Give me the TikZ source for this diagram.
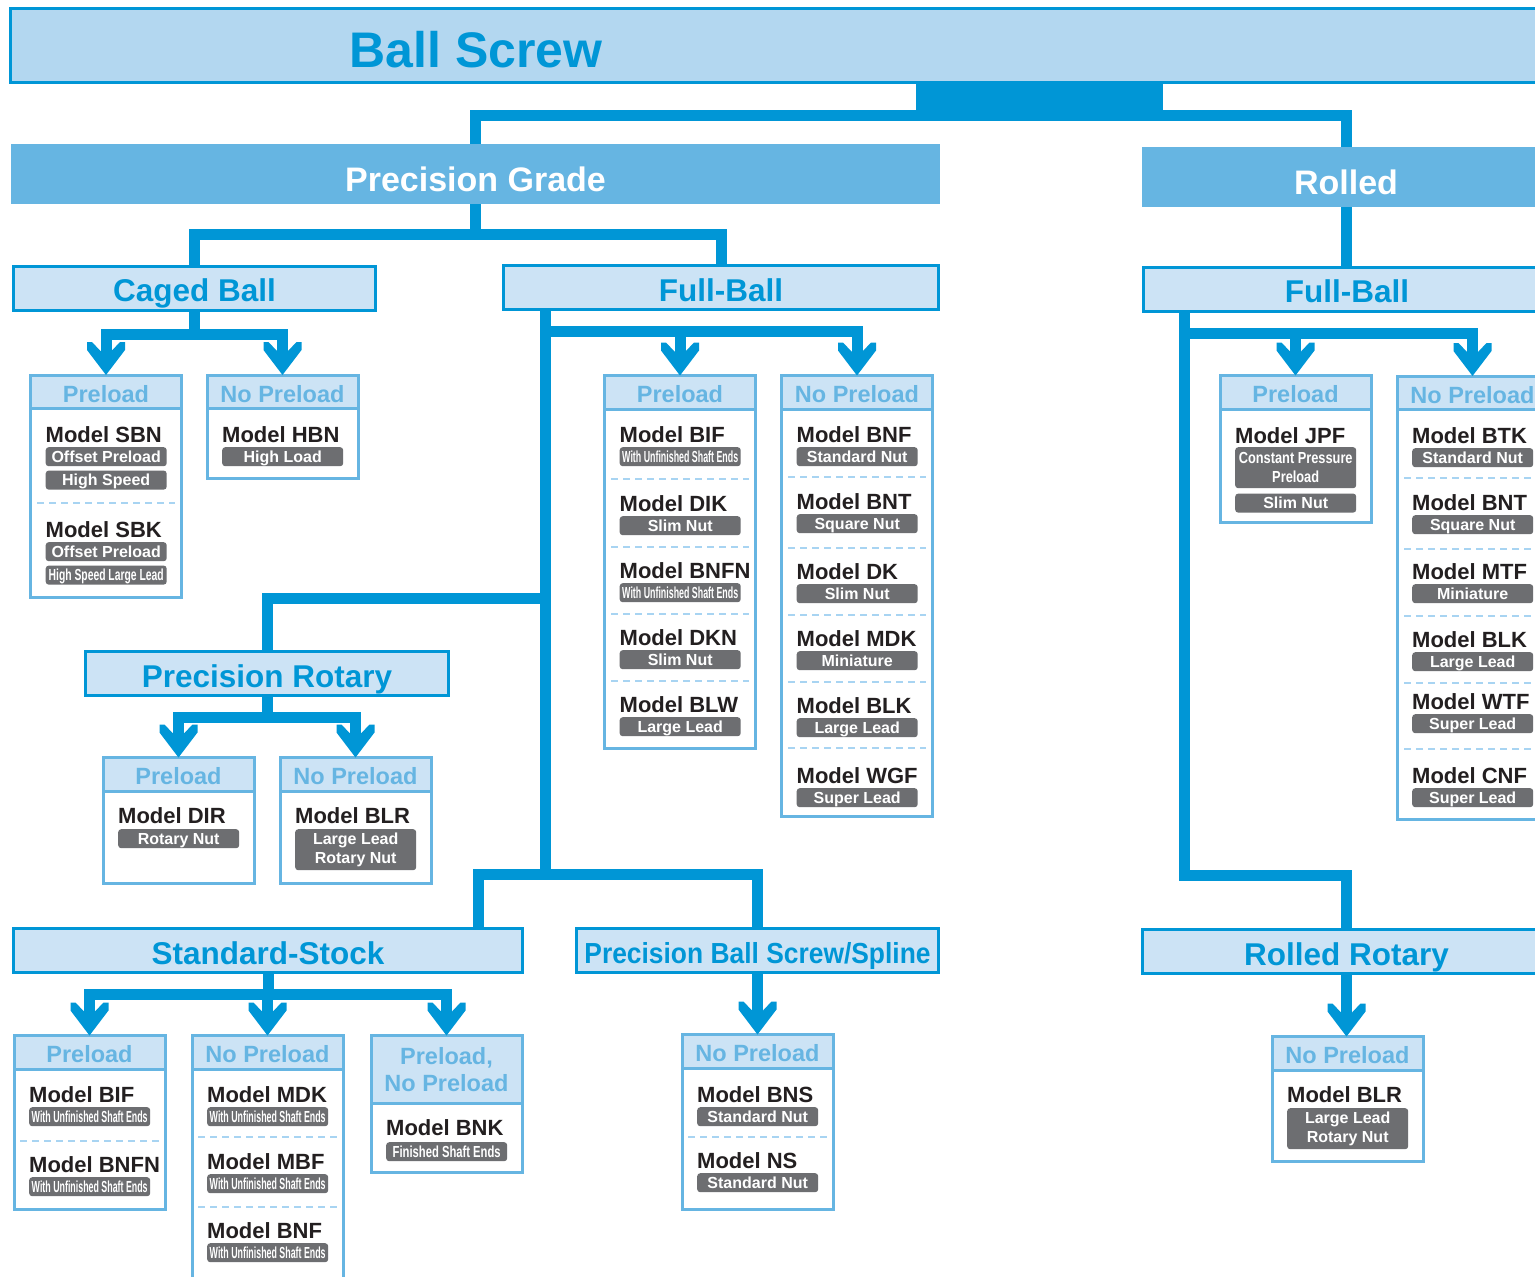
\documentclass[tikz,border=0pt]{standalone}
\usepackage{fontspec}
\setmainfont{Liberation Sans}
\usepackage{graphicx}
\usetikzlibrary{positioning}

\definecolor{flowblue}{HTML}{0096D6}
\definecolor{gradeblue}{HTML}{66B5E2}
\definecolor{topfill}{HTML}{B3D7F0}
\definecolor{catfill}{HTML}{CCE3F5}
\definecolor{tagfill}{HTML}{6D6E71}
\definecolor{inkblack}{HTML}{231F20}
\definecolor{dashblue}{HTML}{A8D4F2}

\newcommand{\narrowtext}[2]{\scalebox{#1}[1]{#2}}

% notched chevron head used on every branch arrow
\pgfdeclarearrow{
  name = Chevron,
  setup code = {
    \pgfarrowssettipend{0pt}
    \pgfarrowssetbackend{-33pt}
    \pgfarrowssetlineend{-23pt}
    \pgfarrowshullpoint{0pt}{0pt}
    \pgfarrowshullpoint{-33pt}{19pt}
    \pgfarrowshullpoint{-33pt}{-19pt}
  },
  drawing code = {
    \pgfpathmoveto{\pgfpointorigin}
    \pgfpathlineto{\pgfqpoint{-25pt}{19pt}}
    \pgfpathlineto{\pgfqpoint{-33pt}{19pt}}
    \pgfpathlineto{\pgfqpoint{-33pt}{14pt}}
    \pgfpathlineto{\pgfqpoint{-24pt}{5.5pt}}
    \pgfpathlineto{\pgfqpoint{-24pt}{-5.5pt}}
    \pgfpathlineto{\pgfqpoint{-33pt}{-14pt}}
    \pgfpathlineto{\pgfqpoint{-33pt}{-19pt}}
    \pgfpathlineto{\pgfqpoint{-25pt}{-19pt}}
    \pgfpathclose
    \pgfusepathqfill
  }
}

\begin{document}
\begin{tikzpicture}[
    x=1pt, y=-1pt,
    topbox/.style={rectangle, draw=flowblue, line width=3pt, fill=topfill, outer sep=0pt},
    toptitle/.style={text=flowblue, font=\fontsize{50}{60}\selectfont\bfseries,
                text height=36pt, text depth=0pt, inner sep=0pt},
    grade/.style={rectangle, fill=gradeblue, text=white, minimum height=60pt,
                font=\fontsize{34}{40}\selectfont\bfseries, text height=34pt, text depth=0pt},
    family/.style={rectangle, draw=flowblue, line width=3pt, fill=catfill, text=flowblue,
                minimum height=44pt, inner sep=0pt,
                font=\fontsize{31.5}{38}\selectfont\bfseries, text height=27.5pt, text depth=0pt},
    headbase/.style={rectangle, draw=gradeblue, line width=3pt, fill=catfill, text=gradeblue,
                minimum width=151pt, minimum height=33.5pt, inner sep=0pt, outer sep=0pt,
                anchor=north, font=\fontsize{23.5}{27}\selectfont\bfseries},
    head/.style={headbase, text height=20.8pt, text depth=0pt},
    headtwo/.style={headbase, align=center, minimum height=67.5pt},
    body/.style={rectangle, draw=gradeblue, line width=3pt, fill=white,
                minimum width=151pt, inner sep=0pt, outer sep=0pt, anchor=north},
    model/.style={text=inkblack, font=\fontsize{22}{26}\selectfont\bfseries,
                inner sep=0pt, anchor=base west},
    tagbox/.style={rectangle, rounded corners=3pt, fill=tagfill, text=white,
                font=\fontsize{16}{19}\selectfont\bfseries,
                minimum width=121pt, minimum height=19pt, inner sep=0pt},
    tag/.style={tagbox, text height=11.5pt, text depth=0pt},
    tagtwo/.style={tagbox, align=center, minimum height=41pt},
    sepline/.style={draw=dashblue, line width=2pt, dash pattern=on 6.5pt off 5.5pt},
    link/.style={color=flowblue, line width=11pt},
    flow/.style={link, -Chevron},
]
\useasboundingbox (0,0) rectangle (1535,1277);
\clip (0,0) rectangle (1535,1277);

% --- Ball Screw ---
\node[topbox, minimum width=1560pt, minimum height=74pt, anchor=north west] (ballscrew) at (10.5,8.5) {};
\node[toptitle] (bstitle) at (476,49) {Ball Screw};
\fill[flowblue] (916,82) rectangle (1163,121);
\coordinate (topfork) at (1040,115);

% --- Grades ---
\node[grade, minimum width=929pt] (prec) at (475.5,174) {Precision Grade};
\node[grade, minimum width=408pt] (rolled) at (1346,177) {Rolled};

% --- Families ---
\node[family, minimum width=362pt] (caged) at (194.5,288) {Caged Ball};
\node[family, minimum width=435pt] (fb) at (721,287.5) {Full-Ball};
\node[family, minimum width=407pt] (rfb) at (1347,289) {Full-Ball};
\node[family, minimum width=363pt] (prot) at (267,673.5) {Precision Rotary};
\node[family, minimum width=509pt] (stock) at (268,950.5) {Standard-Stock};
\node[family, minimum width=362pt, font=\fontsize{29}{34}\selectfont\bfseries] (pbs) at (757.5,950)
  {\narrowtext{0.91}{Precision Ball Screw/Spline}};
\node[family, minimum width=408pt] (rrot) at (1346.5,951.5) {Rolled Rotary};

% --- Caged Ball ---
\node[head] (cpre) at (106,375) {Preload};
\node[body, minimum height=188.5pt] (cpreb) at (cpre.south) {};
\node[model] (sbn) at (45.5,442) {Model SBN};
\node[tag, below right=5pt and 0pt of sbn.base west] (sbn1) {Offset Preload};
\node[tag, below=4pt of sbn1] (sbn2) {High Speed};
\draw[sepline] (37,503) -- (175,503);
\node[model] (sbk) at (45.5,537) {Model SBK};
\node[tag, below right=5pt and 0pt of sbk.base west] (sbk1) {Offset Preload};
\node[tag, below=4pt of sbk1] (sbk2) {\narrowtext{0.647}{High Speed Large Lead}};

\node[head] (cnop) at (282.5,375) {No Preload};
\node[body, minimum height=70pt] (cnopb) at (cnop.south) {};
\node[model] (hbn) at (222,442) {Model HBN};
\node[tag, below right=5pt and 0pt of hbn.base west] (hbn1) {High Load};

% --- Precision Full-Ball ---
\node[head] (fpre) at (680,375.5) {Preload};
\node[body, minimum height=339.5pt] (fpreb) at (fpre.south) {};
\node[model] (bif) at (619.5,442) {Model BIF};
\node[tag, below right=5pt and 0pt of bif.base west] (bif1) {\narrowtext{0.553}{With Unfinished Shaft Ends}};
\draw[sepline] (611,479) -- (749,479);
\node[model] (dik) at (619.5,511) {Model DIK};
\node[tag, below right=5pt and 0pt of dik.base west] (dik1) {Slim Nut};
\draw[sepline] (611,547) -- (749,547);
\node[model] (bnfn) at (619.5,578) {Model BNFN};
\node[tag, below right=5pt and 0pt of bnfn.base west] (bnfn1) {\narrowtext{0.553}{With Unfinished Shaft Ends}};
\draw[sepline] (611,614) -- (749,614);
\node[model] (dkn) at (619.5,645) {Model DKN};
\node[tag, below right=5pt and 0pt of dkn.base west] (dkn1) {Slim Nut};
\draw[sepline] (611,681) -- (749,681);
\node[model] (blw) at (619.5,712) {Model BLW};
\node[tag, below right=5pt and 0pt of blw.base west] (blw1) {Large Lead};

\node[head] (fnop) at (857,375.5) {No Preload};
\node[body, minimum height=407.5pt] (fnopb) at (fnop.south) {};
\node[model] (bnf) at (796.5,442) {Model BNF};
\node[tag, below right=5pt and 0pt of bnf.base west] (bnf1) {Standard Nut};
\draw[sepline] (788,477) -- (926,477);
\node[model] (bnt) at (796.5,509) {Model BNT};
\node[tag, below right=5pt and 0pt of bnt.base west] (bnt1) {Square Nut};
\draw[sepline] (788,548) -- (926,548);
\node[model] (dk) at (796.5,579) {Model DK};
\node[tag, below right=5pt and 0pt of dk.base west] (dk1) {Slim Nut};
\draw[sepline] (788,615) -- (926,615);
\node[model] (mdk) at (796.5,646) {Model MDK};
\node[tag, below right=5pt and 0pt of mdk.base west] (mdk1) {Miniature};
\draw[sepline] (788,682) -- (926,682);
\node[model] (blk) at (796.5,713) {Model BLK};
\node[tag, below right=5pt and 0pt of blk.base west] (blk1) {Large Lead};
\draw[sepline] (788,748) -- (926,748);
\node[model] (wgf) at (796.5,783) {Model WGF};
\node[tag, below right=5pt and 0pt of wgf.base west] (wgf1) {Super Lead};

% --- Rolled Full-Ball ---
\node[head] (rpre) at (1295.5,375.5) {Preload};
\node[body, minimum height=113.5pt] (rpreb) at (rpre.south) {};
\node[model] (jpf) at (1235,443) {Model JPF};
\node[tagtwo, below right=4pt and 0pt of jpf.base west] (jpf1)
  {\narrowtext{0.8}{Constant Pressure}\\\narrowtext{0.8}{Preload}};
\node[tag, below=5pt of jpf1] (jpf2) {Slim Nut};

\node[head] (rnop) at (1472.5,376) {No Preload};
\node[body, minimum height=410pt] (rnopb) at (rnop.south) {};
\node[model] (btk) at (1412,443) {Model BTK};
\node[tag, below right=5pt and 0pt of btk.base west] (btk1) {Standard Nut};
\draw[sepline] (1404,478) -- (1541,478);
\node[model] (rbnt) at (1412,510) {Model BNT};
\node[tag, below right=5pt and 0pt of rbnt.base west] (rbnt1) {Square Nut};
\draw[sepline] (1404,549) -- (1541,549);
\node[model] (mtf) at (1412,579) {Model MTF};
\node[tag, below right=5pt and 0pt of mtf.base west] (mtf1) {Miniature};
\draw[sepline] (1404,616) -- (1541,616);
\node[model] (rblk) at (1412,647) {Model BLK};
\node[tag, below right=5pt and 0pt of rblk.base west] (rblk1) {Large Lead};
\draw[sepline] (1404,683) -- (1541,683);
\node[model] (wtf) at (1412,709) {Model WTF};
\node[tag, below right=5pt and 0pt of wtf.base west] (wtf1) {Super Lead};
\draw[sepline] (1404,749) -- (1541,749);
\node[model] (cnf) at (1412,783) {Model CNF};
\node[tag, below right=5pt and 0pt of cnf.base west] (cnf1) {Super Lead};

% --- Precision Rotary ---
\node[head] (opre) at (178.5,757.5) {Preload};
\node[body, minimum height=92.5pt] (opreb) at (opre.south) {};
\node[model] (dir) at (118,823) {Model DIR};
\node[tag, below right=6pt and 0pt of dir.base west] (dir1) {Rotary Nut};

\node[head] (onop) at (355.5,757.5) {No Preload};
\node[body, minimum height=92.5pt] (onopb) at (onop.south) {};
\node[model] (blr) at (295,823) {Model BLR};
\node[tagtwo, below right=6pt and 0pt of blr.base west] (blr1) {Large Lead\\Rotary Nut};

% --- Standard-Stock ---
\node[head] (spre) at (89.5,1035.5) {Preload};
\node[body, minimum height=140.5pt] (spreb) at (spre.south) {};
\node[model] (sbif) at (29,1102) {Model BIF};
\node[tag, below right=5pt and 0pt of sbif.base west] (sbif1) {\narrowtext{0.553}{With Unfinished Shaft Ends}};
\draw[sepline] (20,1141) -- (159,1141);
\node[model] (sbnfn) at (29,1172) {Model BNFN};
\node[tag, below right=5pt and 0pt of sbnfn.base west] (sbnfn1) {\narrowtext{0.553}{With Unfinished Shaft Ends}};

\node[head] (snop) at (267.5,1035.5) {No Preload};
\node[body, minimum height=240pt] (snopb) at (snop.south) {};
\node[model] (smdk) at (207,1102) {Model MDK};
\node[tag, below right=5pt and 0pt of smdk.base west] (smdk1) {\narrowtext{0.553}{With Unfinished Shaft Ends}};
\draw[sepline] (198,1137) -- (337,1137);
\node[model] (mbf) at (207,1169) {Model MBF};
\node[tag, below right=5pt and 0pt of mbf.base west] (mbf1) {\narrowtext{0.553}{With Unfinished Shaft Ends}};
\draw[sepline] (198,1207) -- (337,1207);
\node[model] (sbnf) at (207,1238) {Model BNF};
\node[tag, below right=5pt and 0pt of sbnf.base west] (sbnf1) {\narrowtext{0.553}{With Unfinished Shaft Ends}};

\node[headtwo] (sboth) at (446.5,1035.5) {Preload,\\No Preload};
\node[body, minimum height=69.5pt] (sbothb) at (sboth.south) {};
\node[model] (bnk) at (386,1135) {Model BNK};
\node[tag, below right=7pt and 0pt of bnk.base west] (bnk1) {\narrowtext{0.702}{Finished Shaft Ends}};

% --- Precision Ball Screw/Spline ---
\node[head] (pnop) at (757.5,1034.5) {No Preload};
\node[body, minimum height=141.5pt] (pnopb) at (pnop.south) {};
\node[model] (bns) at (697,1102) {Model BNS};
\node[tag, below right=5pt and 0pt of bns.base west] (bns1) {Standard Nut};
\draw[sepline] (688,1137) -- (827,1137);
\node[model] (ns) at (697,1168) {Model NS};
\node[tag, below right=5pt and 0pt of ns.base west] (ns1) {Standard Nut};

% --- Rolled Rotary ---
\node[head] (rrnop) at (1347.5,1036.5) {No Preload};
\node[body, minimum height=91.5pt] (rrnopb) at (rrnop.south) {};
\node[model] (rblr) at (1287,1102) {Model BLR};
\node[tagtwo, below right=6pt and 0pt of rblr.base west] (rblr1) {Large Lead\\Rotary Nut};

% --- Connectors ---
\coordinate (fbfork) at (545,331.5);
\coordinate (rotfork) at (545,598.5);
\coordinate (stockfork) at (545,874.5);
\coordinate (rfork) at (1184,333.5);
\coordinate (rrfork) at (1184,875.5);

\draw[link] (prec.north) |- (topfork) -| (rolled.north);
\draw[link] (prec.south) -- ++(0,30) -| (caged.north);
\draw[link] (prec.south) -- ++(0,30) -| (fb.north);
\draw[link] (rolled.south) -- (rolled.south |- rfb.north);

\draw[flow] (caged.south) -- ++(0,23) -| (cpre.north);
\draw[flow] (caged.south) -- ++(0,23) -| (cnop.north);

\draw[link] ([xshift=-176pt]fb.south) -- (stockfork) -| ([xshift=210pt]stock.north);
\draw[link] (stockfork) -| (pbs.north);
\draw[link] (rotfork) -| (prot.north);
\draw[flow] (fbfork) -| (fpre.north);
\draw[flow] (fbfork) -| (fnop.north);

\draw[flow] (prot.south) -- ++(0,20.5) -| (opre.north);
\draw[flow] (prot.south) -- ++(0,20.5) -| (onop.north);

\draw[flow] (stock.south) -- ++(0,20.5) -| (spre.north);
\draw[flow] (stock.south) -- ++(0,20.5) -| (snop.north);
\draw[flow] (stock.south) -- ++(0,20.5) -| (sboth.north);
\draw[flow] (pbs.south) -- (pnop.north);

\draw[link] ([xshift=-163pt]rfb.south) -- (rrfork) -| (rrot.north);
\draw[flow] (rfork) -| (rpre.north);
\draw[flow] (rfork) -| (rnop.north);
\draw[flow] (rrot.south) -- (rrot.south |- rrnop.north);

\end{tikzpicture}
\end{document}
